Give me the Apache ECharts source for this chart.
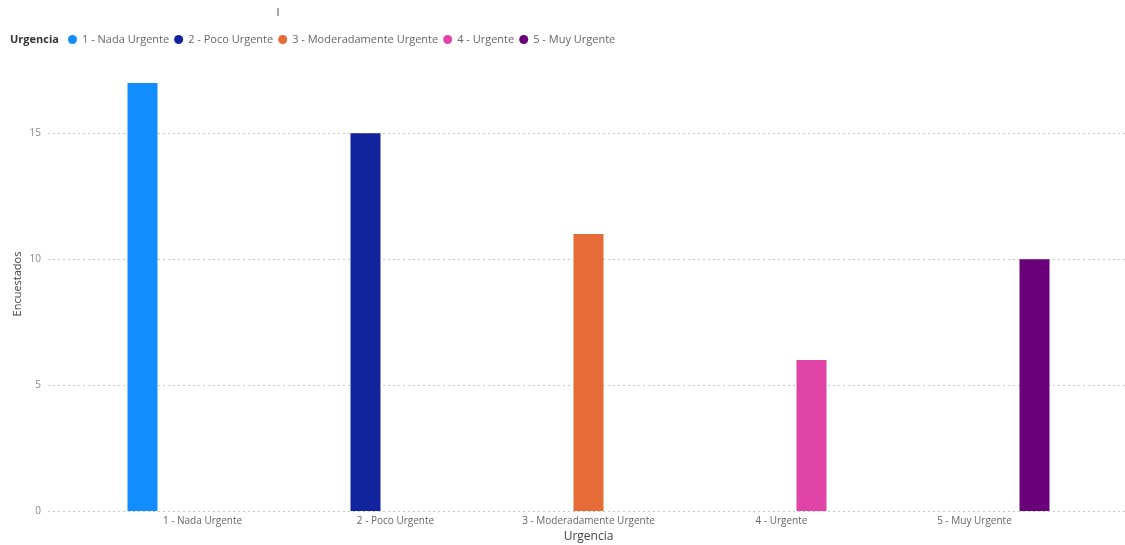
<!DOCTYPE html>
<html>
<head>
<meta charset="utf-8">
<script src="https://cdn.jsdelivr.net/npm/echarts@6/dist/echarts.min.js"></script>
<style>
html,body{margin:0;padding:0;background:#fff;}
#chart{width:1125px;height:545px;}
</style>
</head>
<body>
<div id="chart"></div>
<script>
const categories = ['1 - Nada Urgente', '2 - Poco Urgente', '3 - Moderadamente Urgente', '4 - Urgente', '5 - Muy Urgente'];
const values = [17, 15, 11, 6, 10];
const colors = ['#118DFF', '#12239E', '#E66C37', '#E044A7', '#6B007B'];
const yTicks = [0, 5, 10, 15];
const legendTitle = 'Urgencia';
const xAxisTitle = 'Urgencia';
const yAxisTitle = 'Encuestados';

const FONT = '"Open Sans", "Noto Sans", sans-serif';
const yMax = 17;

const series = categories.map((name, i) => ({
  name: name,
  type: 'bar',
  xAxisIndex: 1,
  yAxisIndex: 1,
  barWidth: 30,
  barGap: '0%',
  itemStyle: { color: colors[i] },
  data: categories.map((c, j) => (j === i ? values[i] : null))
}));

const chart = echarts.init(document.getElementById('chart'), null, { renderer: 'canvas' });
chart.setOption({
  animation: false,
  textStyle: { fontFamily: FONT },
  title: {
    text: legendTitle,
    left: 5,
    top: 29,
    textStyle: { fontSize: 11, fontWeight: 'bold', color: '#333', fontFamily: FONT }
  },
  legend: {
    left: 63,
    top: 29,
    icon: 'circle',
    itemWidth: 9,
    itemHeight: 9,
    itemGap: 5,
    textStyle: { fontSize: 11, color: '#666', fontFamily: FONT },
    data: categories
  },
  graphic: [
    { type: 'rect', left: 277, top: 8, shape: { width: 2, height: 8 }, style: { fill: '#aaa' } },
    {
      type: 'text', x: 18, y: 284, rotation: Math.PI / 2,
      style: { text: yAxisTitle, fill: '#444', font: '11px "Open Sans", "Noto Sans", sans-serif', align: 'center', verticalAlign: 'middle' }
    }
  ],
  grid: [
    { left: 48, right: 0, top: 83, bottom: 34, outerBoundsMode: 'none', containLabel: false },
    { left: 106, right: 54, top: 83, bottom: 34, outerBoundsMode: 'none', containLabel: false }
  ],
  xAxis: [
    { gridIndex: 0, type: 'value', show: false, min: 0, max: 1 },
    {
      gridIndex: 1,
      type: 'category',
      data: categories,
      axisLine: { show: false },
      axisTick: { show: false },
      axisLabel: { fontSize: 10, color: '#666', margin: 5, fontFamily: FONT, interval: 0 },
      name: xAxisTitle,
      nameLocation: 'middle',
      nameGap: 20,
      nameTextStyle: { fontSize: 12, color: '#444', fontFamily: FONT }
    }
  ],
  yAxis: [
    {
      gridIndex: 0,
      type: 'value',
      min: 0,
      max: yMax,
      interval: 5,
      axisLine: { show: false },
      axisTick: { show: false },
      axisLabel: {
        fontSize: 10, color: '#888', margin: 7, fontFamily: FONT, showMaxLabel: false,
        formatter: v => (yTicks.indexOf(v) >= 0 ? String(v) : '')
      },
      splitLine: { show: true, showMaxLine: false, lineStyle: { color: '#c8c8c8', type: [2, 3], width: 1 } }
    },
    { gridIndex: 1, type: 'value', min: 0, max: yMax, show: false }
  ],
  series: series
});
</script>
</body>
</html>
